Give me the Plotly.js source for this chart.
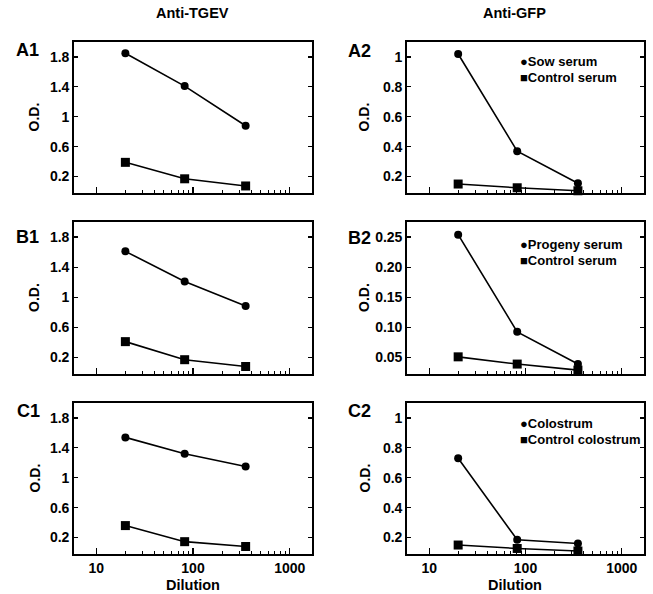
<!DOCTYPE html>
<html>
<head>
<meta charset="utf-8">
<script src="https://cdn.plot.ly/plotly-3.0.1.min.js"></script>
<style>html,body{margin:0;padding:0;background:#fff;}#chart{width:653px;height:594px;}</style>
</head>
<body>
<div id="chart"></div>
<script>
// ---- data ----
const dilution = [20, 82, 350];
const A1_immune = [1.85, 1.41, 0.88];
const A1_control = [0.39, 0.17, 0.074];
const A2_immune = [1.02, 0.37, 0.155];
const A2_control = [0.15, 0.125, 0.105];
const B1_immune = [1.61, 1.21, 0.885];
const B1_control = [0.41, 0.17, 0.08];
const B2_immune = [0.254, 0.0925, 0.039];
const B2_control = [0.051, 0.039, 0.029];
const C1_immune = [1.54, 1.32, 1.15];
const C1_control = [0.36, 0.145, 0.08];
const C2_immune = [0.73, 0.185, 0.16];
const C2_control = [0.15, 0.127, 0.11];

const xTickVals = [10, 100, 1000];
const xTickText = ['10', '100', '1000'];
const xMinorVals = [20, 30, 40, 50, 60, 70, 80, 90, 200, 300, 400, 500, 600, 700, 800, 900];
const yLeftVals = [0.2, 0.6, 1, 1.4, 1.8];
const yLeftText = ['0.2', '0.6', '1', '1.4', '1.8'];
const yRightVals = [0.2, 0.4, 0.6, 0.8, 1];
const yRightText = ['0.2', '0.4', '0.6', '0.8', '1'];
const yB2Vals = [0.05, 0.10, 0.15, 0.20, 0.25];
const yB2Text = ['0.05', '0.10', '0.15', '0.20', '0.25'];

const panels = [
  {name: 'A1', immune: A1_immune, control: A1_control, col: 0, row: 0},
  {name: 'A2', immune: A2_immune, control: A2_control, col: 1, row: 0, legend: ['Sow serum', 'Control serum']},
  {name: 'B1', immune: B1_immune, control: B1_control, col: 0, row: 1},
  {name: 'B2', immune: B2_immune, control: B2_control, col: 1, row: 1, legend: ['Progeny serum', 'Control serum']},
  {name: 'C1', immune: C1_immune, control: C1_control, col: 0, row: 2},
  {name: 'C2', immune: C2_immune, control: C2_control, col: 1, row: 2, legend: ['Colostrum', 'Control colostrum']}
];

// ---- layout geometry ----
const W = 653, H = 594;
const px = x => x / W;
const py = y => 1 - y / H;
const colX = [[74, 312], [407, 644]];
const rowY = [[42, 193], [222, 374], [403, 554]];
const FONT = 'Liberation Sans, Arial, Helvetica, sans-serif';
const tickFont = {family: FONT, size: 14, color: '#000', weight: 'bold'};

const traces = [];
const layout = {
  width: W, height: H,
  margin: {l: 0, r: 0, t: 0, b: 0},
  paper_bgcolor: '#fff', plot_bgcolor: '#fff',
  showlegend: false,
  font: {family: FONT, color: '#000'},
  annotations: []
};

panels.forEach((p, i) => {
  const n = i + 1;
  const xa = 'x' + (n === 1 ? '' : n), ya = 'y' + (n === 1 ? '' : n);
  const line = {color: '#000', width: 1.6};
  traces.push({x: dilution, y: p.immune, xaxis: xa, yaxis: ya, mode: 'lines+markers', type: 'scatter',
    line: line, marker: {symbol: 'circle', size: 8, color: '#000'}, cliponaxis: false});
  traces.push({x: dilution, y: p.control, xaxis: xa, yaxis: ya, mode: 'lines+markers', type: 'scatter',
    line: line, marker: {symbol: 'square', size: 9, color: '#000'}, cliponaxis: false});

  let yr, yv, yt;
  if (p.col === 0) { yr = [-0.02, 2.0]; yv = yLeftVals; yt = yLeftText; }
  else if (p.name === 'B2') { yr = [0.0225, 0.275]; yv = yB2Vals; yt = yB2Text; }
  else { yr = [0.09, 1.1]; yv = yRightVals; yt = yRightText; }

  const xd = colX[p.col], yd = rowY[p.row];
  layout['xaxis' + (n === 1 ? '' : n)] = {
    type: 'log', range: [0.77, 3.23], domain: [px(xd[0]), px(xd[1])], anchor: ya,
    tickmode: 'array', tickvals: xTickVals, ticktext: xTickText,
    showticklabels: p.row === 2, ticks: 'inside', ticklen: 6, tickwidth: 1.2, tickcolor: '#000',
    minor: {tickmode: 'array', tickvals: xMinorVals, ticks: 'inside', ticklen: 3, tickwidth: 1, tickcolor: '#000', showgrid: false},
    showline: true, linecolor: '#000', linewidth: 1.8, mirror: true,
    showgrid: false, zeroline: false, tickfont: tickFont, fixedrange: true
  };
  layout['yaxis' + (n === 1 ? '' : n)] = {
    range: yr, domain: [py(yd[1]), py(yd[0])], anchor: xa,
    tickmode: 'array', tickvals: yv, ticktext: yt,
    ticks: 'inside', ticklen: 4, tickwidth: 1.2, tickcolor: '#000',
    showline: true, linecolor: '#000', linewidth: 1.8, mirror: 'ticks',
    showgrid: false, zeroline: false, tickfont: tickFont, fixedrange: true
  };

  // panel label
  const labelPos = {A1: [14, 50], B1: [14, 237], C1: [15, 411], A2: [346, 51], B2: [346, 238], C2: [346, 411]}[p.name];
  layout.annotations.push({xref: 'paper', yref: 'paper', x: px(labelPos[0]), y: py(labelPos[1]),
    xanchor: 'left', yanchor: 'middle', showarrow: false, text: p.name,
    font: {family: FONT, size: 18, weight: 'bold', color: '#000'}});
  // O.D. axis title
  const odX = p.col === 0 ? 34 : 364;
  layout.annotations.push({xref: 'paper', yref: 'paper', x: px(odX), y: py((yd[0] + yd[1]) / 2),
    xanchor: 'center', yanchor: 'middle', showarrow: false, text: 'O.D.', textangle: -90,
    font: {family: FONT, size: 14, weight: 'bold', color: '#000'}});
  // legend text
  if (p.legend) {
    const off = p.name === 'B2' ? 23 : (p.name === 'C2' ? 20.5 : 20);
    const lx = 518;
    layout.annotations.push({xref: 'paper', yref: 'paper', x: px(lx), y: py(yd[0] + off),
      xanchor: 'left', yanchor: 'middle', showarrow: false, text: '\u25CF' + p.legend[0],
      font: {family: FONT, size: 13, weight: 'bold', color: '#000'}});
    layout.annotations.push({xref: 'paper', yref: 'paper', x: px(lx), y: py(yd[0] + off + 15.5),
      xanchor: 'left', yanchor: 'middle', showarrow: false, text: '\u25A0' + p.legend[1],
      font: {family: FONT, size: 13, weight: 'bold', color: '#000'}});
  }
});

// column titles
layout.annotations.push({xref: 'paper', yref: 'paper', x: px(193), y: py(13), xanchor: 'center', yanchor: 'middle',
  showarrow: false, text: 'Anti-TGEV', font: {family: FONT, size: 14.5, weight: 'bold', color: '#000'}});
layout.annotations.push({xref: 'paper', yref: 'paper', x: px(514), y: py(13), xanchor: 'center', yanchor: 'middle',
  showarrow: false, text: 'Anti-GFP', font: {family: FONT, size: 14.5, weight: 'bold', color: '#000'}});
// x axis titles
layout.annotations.push({xref: 'paper', yref: 'paper', x: px(193), y: py(585), xanchor: 'center', yanchor: 'middle',
  showarrow: false, text: 'Dilution', font: {family: FONT, size: 14.5, weight: 'bold', color: '#000'}});
layout.annotations.push({xref: 'paper', yref: 'paper', x: px(515), y: py(585), xanchor: 'center', yanchor: 'middle',
  showarrow: false, text: 'Dilution', font: {family: FONT, size: 14.5, weight: 'bold', color: '#000'}});

Plotly.newPlot('chart', traces, layout, {displayModeBar: false, staticPlot: true});
</script>
</body>
</html>
